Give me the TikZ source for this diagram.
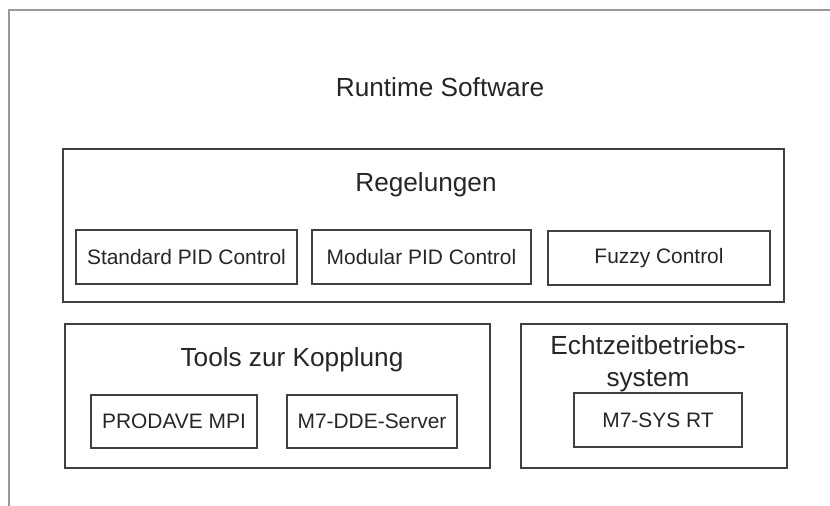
\documentclass[tikz,border=0pt]{standalone}
\usepackage{fontspec}
\setmainfont{Liberation Sans}
\begin{document}
\begin{tikzpicture}[x=1bp,y=-1bp,
    box/.style={draw=black!75,line width=1.4bp,inner sep=0pt,text=black!85},
    small/.style={box,font=\fontsize{21}{25}\selectfont,minimum height=54bp},
    title/.style={inner sep=0pt,text=black!85,font=\fontsize{26.3}{32}\selectfont}]
  \useasboundingbox (0,0) rectangle (830,506);
  % frame
  \draw[black!40,line width=2bp] (9,506) -- (9,10) -- (830,10);
  \node[title] (rt) at (440,87) {Runtime Software};
  % Regelungen
  \node[box,minimum width=721bp,minimum height=153bp] (reg) at (423.5,225.5) {};
  \node[title] (regt) at (426,185) {Regelungen};
  \node[small,minimum width=221bp] (std) at (186.5,257) {Standard PID Control};
  \node[small,minimum width=219bp] (mod) at (421.5,257) {Modular PID Control};
  \node[small,minimum width=222bp] (fuz) at (659,258) {Fuzzy Control};
  % Kopplung
  \node[box,minimum width=425bp,minimum height=144bp] (tools) at (277.5,396) {};
  \node[title] (toolst) at (292,360) {Tools zur Kopplung};
  \node[small,minimum width=166bp,minimum height=53bp] (mpi) at (174,421.5) {PRODAVE MPI};
  \node[small,minimum width=170bp,minimum height=53bp] (dde) at (372,421.5) {M7-DDE-Server};
  % Betriebssystem
  \node[box,minimum width=266bp,minimum height=144bp] (os) at (654,396) {};
  \node[title,align=center] (ost) at (648,364) {Echtzeitbetriebs-\\system};
  \node[small,minimum width=168bp] (sysrt) at (658,420) {M7-SYS RT};
\end{tikzpicture}
\end{document}
